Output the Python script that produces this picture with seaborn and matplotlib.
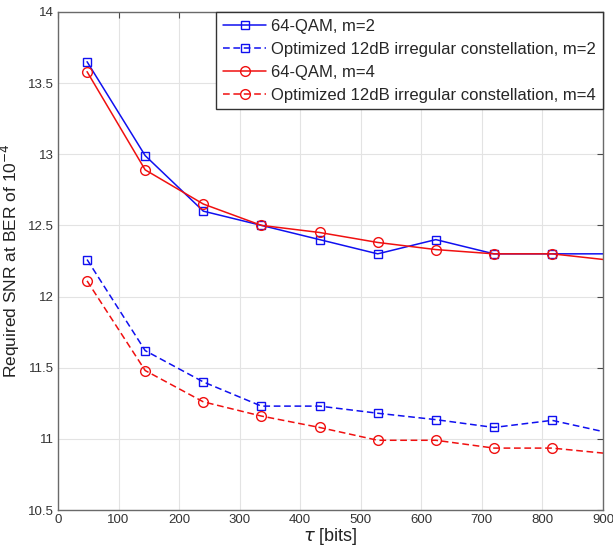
import numpy as np
import pandas as pd
import seaborn as sns
import matplotlib.pyplot as plt
from matplotlib.ticker import FuncFormatter

# block length tau [bits]; last point lies past the axis limit (clipped, like the original)
tau = [48, 144, 240, 336, 432, 528, 624, 720, 816, 912]

qam_m2 = [13.65, 12.99, 12.60, 12.50, 12.40, 12.30, 12.40, 12.30, 12.30, 12.30]
opt_m2 = [12.26, 11.62, 11.40, 11.23, 11.23, 11.18, 11.135, 11.08, 11.13, 11.04]
qam_m4 = [13.58, 12.89, 12.65, 12.50, 12.45, 12.38, 12.33, 12.30, 12.30, 12.255]
opt_m4 = [12.11, 11.48, 11.26, 11.16, 11.08, 10.99, 10.99, 10.935, 10.935, 10.895]

labels = ['64-QAM, m=2',
          'Optimized 12dB irregular constellation, m=2',
          '64-QAM, m=4',
          'Optimized 12dB irregular constellation, m=4']

sns.set_style('white')
plt.rcParams['font.family'] = ['Liberation Sans', 'DejaVu Sans']
plt.rcParams['mathtext.fontset'] = 'dejavusans'

fig = plt.figure(figsize=(6.13, 5.51), dpi=100)
ax = fig.add_axes([0.0946, 0.0744, 0.889, 0.904])

dash = (0, (4.4, 2.4))
series = [
    (qam_m2, labels[0], '#1010f0', 's', '-', 6),
    (opt_m2, labels[1], '#1010f0', 's', dash, 6),
    (qam_m4, labels[2], '#f01010', 'o', '-', 7),
    (opt_m4, labels[3], '#f01010', 'o', dash, 7),
]
for vals, lab, col, mk, ls, ms in series:
    df = pd.DataFrame({'tau': tau, 'snr': vals})
    sns.lineplot(data=df, x='tau', y='snr', ax=ax, color=col, marker=mk,
                 markersize=ms, markerfacecolor='none', markeredgecolor=col,
                 markeredgewidth=1.0, linestyle=ls, linewidth=1.1,
                 label=lab, errorbar=None)

ax.set_xlim(0, 900)
ax.set_ylim(10.5, 14)
ax.set_xticks(np.arange(0, 901, 100))
ax.set_yticks(np.arange(10.5, 14.01, 0.5))
ax.yaxis.set_major_formatter(FuncFormatter(lambda v, p: '%g' % v))

ax.grid(True, color='#e3e3e3', linewidth=0.8)
ax.tick_params(direction='in', top=True, right=True, length=4, width=0.8,
               labelsize=9.5, colors='#4a4a4a', labelcolor='#333333', pad=3)
for s in ax.spines.values():
    s.set_color('#6a6a6a')
    s.set_linewidth(1.0)

ax.set_xlabel(r'$\tau$ [bits]', fontsize=13, labelpad=0, color='#222222')
ax.set_ylabel(r'Required SNR at BER of 10$^{-4}$', fontsize=12.5, labelpad=4, color='#222222')

leg = ax.legend(loc='upper right', bbox_to_anchor=(1.0, 1.0), borderaxespad=0.0,
                fontsize=12, frameon=True, fancybox=False, framealpha=1,
                edgecolor='#333333', handlelength=2.6, handletextpad=0.3,
                labelspacing=0.48, borderpad=0.4)
leg.get_frame().set_linewidth(1.0)

fig.savefig('out.png', dpi=100)
